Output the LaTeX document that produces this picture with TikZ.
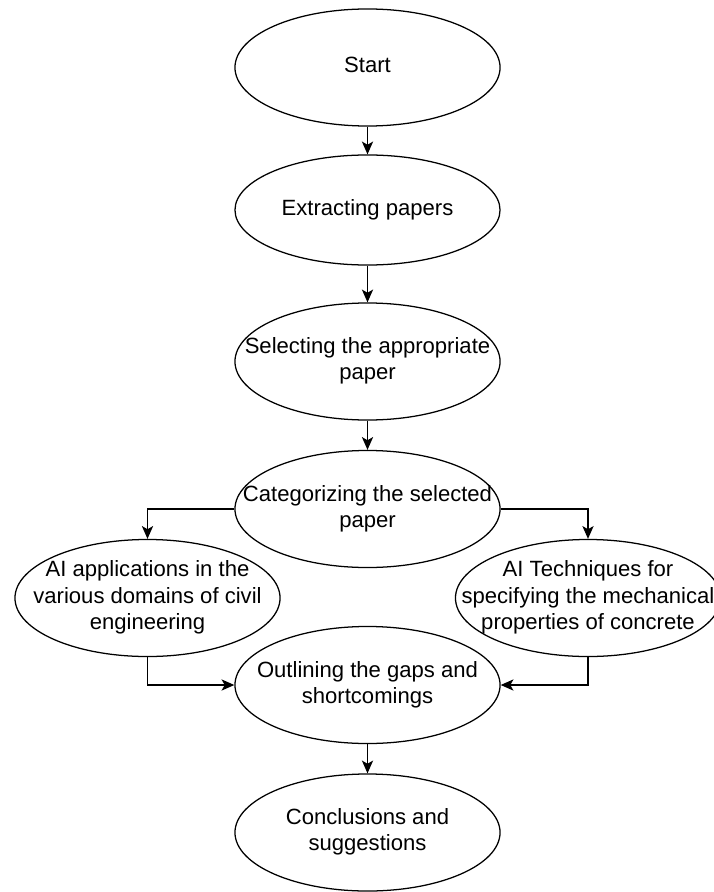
\documentclass[tikz,border=0pt]{standalone}
\usepackage{fontspec}
\setmainfont{Liberation Sans}
\usetikzlibrary{shapes.geometric,arrows.meta}
\newcommand{\stagetxt}[1]{\makebox[0pt]{\begin{tabular}{@{}c@{}}#1\end{tabular}}}
\tikzset{
    stage/.style={ellipse, draw, line width=0.9pt, inner sep=0pt,
        minimum width=6.625cm, minimum height=2.925cm,
        font=\fontsize{15.7}{18.7}\selectfont},
    flow/.style={line width=0.9pt, -{Stealth[length=3.2mm,width=2.8mm,inset=0.8mm]}}
}
\begin{document}
\begin{tikzpicture}[x=0.025cm,y=-0.025cm]
        \useasboundingbox (0,0) rectangle (713,892);

        \node[stage] (start) at (367.5,67.5) {\stagetxt{Start}};
        \node[stage, minimum height=2.75cm] (extract) at (367.5,210) {\stagetxt{Extracting papers}};
        \node[stage] (select) at (367.5,361.5) {\stagetxt{Selecting the appropriate\\paper}};
        \node[stage] (cat) at (367.5,509) {\stagetxt{Categorizing the selected\\paper}};
        \node[stage] (app) at (147.5,598) {\stagetxt{AI applications in the\\various domains of civil\\engineering}};
        \node[stage] (tech) at (588,598) {\stagetxt{AI Techniques for\\specifying the mechanical\\properties of concrete}};
        \node[stage] (outline) at (367.5,685) {\stagetxt{Outlining the gaps and\\shortcomings}};
        \node[stage] (concl) at (367.5,832.5) {\stagetxt{Conclusions and\\suggestions}};

        \foreach \a/\b in {start/extract, extract/select, select/cat, outline/concl}
        {
            \draw[flow] (\a.south) -- (\b.north);
        }
        \draw[flow] (cat.west) -| (app.north);
        \draw[flow] (cat.east) -| (tech.north);
        \draw[flow] (app.south) |- (outline.west);
        \draw[flow] (tech.south) |- (outline.east);
\end{tikzpicture}
\end{document}
